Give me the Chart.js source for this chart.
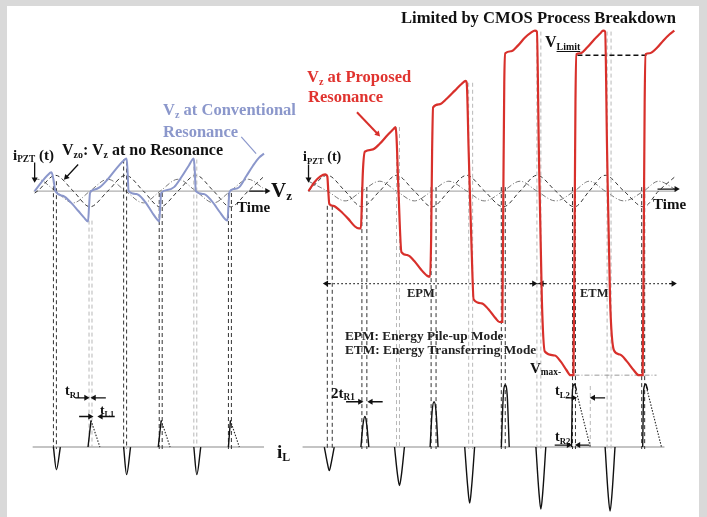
<!DOCTYPE html>
<html lang="en">
<head>
<meta charset="utf-8">
<title>Proposed vs conventional resonance</title>
<script src="https://cdn.jsdelivr.net/npm/chart.js@4.4.1/dist/chart.umd.min.js"></script>
<style>
  body { margin: 0; background: #fff; }
  #wrap { position: relative; width: 707px; height: 517px; background: #d9d9d9; overflow: hidden; }
  #inner { position: absolute; left: 7px; top: 6px; right: 8px; bottom: 0; background: #fff; }
  #chart { position: absolute; left: 0; top: 0; }
  .lbl { position: absolute; transform: translateY(-50%); line-height: 1; white-space: nowrap;
         font-family: "Liberation Serif", "Times New Roman", serif; font-weight: bold; color: #111; }
  .lbl sub { font-size: 0.62em; vertical-align: -0.3em; line-height: 0; }
</style>
</head>
<body>
<div id="wrap">
  <div id="inner"></div>
  <canvas id="chart" width="707" height="517"></canvas>
</div>
<script>
// picture units: x = time (left to right), y = level (top down)
const vzBase = [[[30,190],[262,190]], [[308,190],[680,190]]];
const iLBase = [[[29,450],[263,450]], [[302,450],[668,450]]];

// conventional resonance (left)
const convVzo = [[31,192],[34,190],[52,174],[70,190],[87,206],[105,190],[123,174],[141,190],[158,206],[176,190],[194,174],[212,190],[229,206],[247,190],[262,176]];
const convIpzt = [[31,179],[34,178],[52,190],[70,202],[87,190],[105,178],[123,190],[141,202],[158,190],[176,178],[194,190],[212,202],[229,190],[247,178],[262,187]];
const convVz = [[31,190],[38,181],[44,174],[48,171],[50,178],[52,190],[60,195],[68,202],[75,210],[81,217],[85,221],[86,206],[87,192],[90,189],[97,186],[105,178],[113,168],[120,160],[124,157],[125,170],[126,190],[134,193],[142,200],[150,212],[155,219],[157,221],[158,206],[159,192],[165,189],[172,186],[180,175],[187,164],[192,157],[193,170],[194,190],[202,193],[210,200],[218,211],[224,219],[226,220],[227,206],[228,191],[232,188],[238,186],[245,175],[252,164],[258,156],[263,152]];

// proposed resonance (right)
const propVzo = [[308,190],[327,174],[345,190],[362,206],[380,190],[397,174],[415,190],[433,206],[450,190],[468,174],[486,190],[505,206],[522,190],[539,174],[558,190],[577,206],[592,190],[608,174],[627,190],[647,206],[662,190],[678,176]];
const propIpzt = [[308,180],[327,190],[345,200],[362,190],[380,180],[397,190],[415,200],[433,190],[450,180],[468,190],[486,200],[505,190],[522,180],[539,190],[558,200],[577,190],[592,180],[608,190],[627,200],[647,190],[662,180],[680,189]];
const propVz = [[308,190],[314,181],[320,175],[325,173],[327,175],[328,190],[329,203],[333,205],[340,210],[348,218],[355,226],[359,228],[361,228],[362,200],[363,170],[365,150],[372,148],[380,142],[388,133],[394,127],[396,125],[397,135],[399,190],[402,252],[408,255],[415,261],[422,270],[428,276],[431,277],[432,240],[433,150],[434,105],[440,102],[448,96],[456,88],[463,81],[467,78],[468,80],[470,150],[473,250],[475,300],[483,304],[490,310],[497,319],[501,323],[504,323],[505,200],[506,80],[507,50],[513,48],[520,42],[527,34],[533,29],[537,27],[539,28],[541,150],[544,300],[547,353],[557,357],[563,363],[569,372],[573,377],[576,377],[577,250],[578,100],[579,51],[583,50],[590,44],[597,36],[603,30],[606,27],[608,28],[610,150],[613,300],[617,352],[623,356],[630,363],[637,372],[642,377],[646,377],[647,250],[648,100],[649,51],[653,50],[660,45],[667,37],[673,31],[678,27]];

// vertical guides: [x, top, bottom]
const guidesDark = [[50,178,452],[53,180,452],[121,158,452],[124,160,452],[157,192,452],[160,192,452],[227,192,452],[230,192,452],
  [327,205,452],[332,205,452],[362,186,452],[367,186,452],[432,186,452],[437,186,452],[503,186,452],[507,186,452],[575,186,452],[578,186,452],[645,186,452],[648,186,452]];
const guidesLight = [[86,220,450],[89,220,450],[192,158,450],[195,158,450],
  [397,125,452],[400,125,452],[470,80,452],[474,80,452],[539,28,452],[543,28,452],[610,28,452],[614,28,452],[593,388,450]];

// inductor current pulses
const pulsesSolid = [
  [[50,450],[53,473],[57,450]], [[121,450],[124,478],[128,450]], [[192,450],[195,478],[199,450]],
  [[85,450],[88,423]], [[156,450],[159,423]], [[227,450],[229,423]],
  [[324,450],[327,466],[329,474],[331,466],[334,450]], [[395,450],[398,478],[400,489],[402,478],[405,450]],
  [[466,450],[469,490],[471,507],[473,490],[476,450]], [[538,450],[541,495],[543,513],[545,495],[548,450]],
  [[608,450],[611,497],[613,515],[615,497],[618,450]],
  [[361,450],[363,428],[365,419],[367,428],[369,450]], [[431,450],[433,414],[435,404],[437,414],[439,450]],
  [[503,450],[505,398],[507,387],[509,398],[511,450]],
  [[574,450],[575,392],[577,386],[579,392]], [[646,450],[647,392],[649,386],[651,392]]
];
const pulsesDotted = [[[88,423],[97,450]], [[159,423],[168,450]], [[229,423],[238,450]], [[577,386],[593,450]], [[649,386],[665,450]]];

// levels and mode line
const vLimit = [[580,52],[650,52]];
const vMaxMinus = [[577,377],[660,377]];
const modeLine = [[325,284],[678,284]];

// arrows [x1,y1,x2,y2], head at the second point
const arrowsBlack = [[31,161,31,178],[308,163,308,178],[75,163,63,176],[248,190,266,190],[661,188,680,188],
  [72,400,83,400],[103,400,91,400],[76,419,87,419],[112,419,98,419],
  [346,404,360,404],[383,404,371,404],[568,400,576,400],[608,400,596,400],[557,448,571,448],[592,448,581,448],
  [330,284,326,284],[532,284,536,284],[548,284,544,284],[673,284,677,284]];
const arrowRed = [357,110,378,132];
const lineBlue = [[240,135],[255,152]];

const labels = [
  ['Limited by CMOS Process Breakdown', 401, 18, 16.6, '#111'],
  ['V<sub>z</sub> at Proposed', 307, 77, 16.5, '#e0332f'],
  ['Resonance', 308, 97, 16.5, '#e0332f'],
  ['V<sub>z</sub> at Conventional', 163, 110, 16.5, '#8b97cb'],
  ['Resonance', 163, 132, 16.5, '#8b97cb'],
  ['i<sub>PZT</sub> (t)', 13, 155, 15, '#111'],
  ['V<sub>zo</sub>: V<sub>z</sub> at no Resonance', 62, 150, 16, '#111'],
  ['i<sub>PZT</sub> (t)', 303, 157, 14, '#111'],
  ['V<sub>z</sub>', 271, 190, 21, '#111'],
  ['Time', 237, 207, 15, '#111'],
  ['Time', 653, 204, 15, '#111'],
  ['t<sub>R1</sub>', 65, 391, 14, '#111'],
  ['t<sub>L1</sub>', 100, 410, 13.5, '#111'],
  ['2t<sub>R1</sub>', 331, 393, 15, '#111'],
  ['t<sub>L2</sub>', 555, 391, 14, '#111'],
  ['t<sub>R2</sub>', 555, 437, 14, '#111'],
  ['EPM', 407, 293, 12.5, '#222'],
  ['ETM', 580, 293, 12.5, '#222'],
  ['EPM: Energy Pile-up Mode', 345, 336, 13.3, '#222'],
  ['ETM: Energy Transferring Mode', 345, 350, 13.3, '#222'],
  ['V<sub><u>Limit</u></sub>', 545, 42, 16, '#111'],
  ['V<sub>max-</sub>', 530, 368, 15, '#111'],
  ['i<sub>L</sub>', 277, 451, 19, '#111']
];

const xy = pts => pts.map(p => ({x: p[0], y: p[1]}));
function segs(list) {
  const out = [];
  list.forEach(s => {
    s.forEach(p => out.push({x: p[0], y: p[1]}));
    out.push({x: s[s.length - 1][0], y: null});
  });
  return out;
}
const vlines = g => segs(g.map(v => [[v[0], v[1]], [v[0], v[2]]]));

function line(data, color, width, dash, smooth) {
  return {
    data: data, showLine: true, borderColor: color, borderWidth: width,
    borderDash: dash || [], pointRadius: 0, spanGaps: false,
    cubicInterpolationMode: smooth ? 'monotone' : 'default', tension: 0
  };
}
function heads(arrows, color, r) {
  return {
    data: arrows.map(a => ({x: a[2], y: a[3]})),
    showLine: false, pointStyle: 'triangle', pointRadius: r,
    pointRotation: arrows.map(a => Math.atan2(a[2] - a[0], -(a[3] - a[1])) * 180 / Math.PI),
    backgroundColor: color, borderColor: color, borderWidth: 0
  };
}

const datasets = [
  line(xy(propVz), '#d8302b', 2.2, null, true),
  line(xy(convVz), '#8b97cb', 2, null, true),
  line(segs(arrowsBlack.map(a => [[a[0], a[1]], [a[2], a[3]]])), '#111', 1.3),
  heads(arrowsBlack, '#111', 3.5),
  line(segs([[[arrowRed[0], arrowRed[1]], [arrowRed[2], arrowRed[3]]]]), '#d8302b', 2),
  heads([arrowRed], '#d8302b', 3.5),
  line(xy(lineBlue), '#8b97cb', 1.2),
  line(segs(pulsesSolid), '#111', 1.4, null, true),
  line(segs(pulsesDotted), '#222', 1.1, [1.5, 1.5]),
  line(xy(vLimit), '#111', 1.4, [5, 3]),
  line(xy(vMaxMinus), '#999', 1, [5, 2, 1, 2]),
  line(xy(modeLine), '#222', 1.1, [1.5, 2.5]),
  line(vlines(guidesDark), '#333', 1, [4, 3]),
  line(vlines(guidesLight), '#b8b8b8', 1, [4, 3]),
  line(xy(convVzo), '#333', 1, [4, 3], true),
  line(xy(convIpzt), '#777', 1, [5, 2, 1, 2], true),
  line(xy(propVzo), '#333', 1, [4, 3], true),
  line(xy(propIpzt), '#777', 1, [5, 2, 1, 2], true),
  line(segs(vzBase), '#b0b0b0', 1.3),
  line(segs(iLBase), '#c4c4c4', 2)
];

new Chart(document.getElementById('chart').getContext('2d'), {
  type: 'scatter',
  data: { datasets: datasets },
  options: {
    responsive: false, animation: false, devicePixelRatio: 1,
    layout: { padding: 0 },
    plugins: { legend: { display: false }, tooltip: { enabled: false } },
    scales: {
      x: { type: 'linear', min: 0, max: 707, display: false },
      y: { type: 'linear', min: 0, max: 517, reverse: true, display: false }
    }
  }
});

const wrap = document.getElementById('wrap');
labels.forEach(l => {
  const d = document.createElement('div');
  d.className = 'lbl';
  d.innerHTML = l[0];
  d.style.left = l[1] + 'px';
  d.style.top = l[2] + 'px';
  d.style.fontSize = l[3] + 'px';
  d.style.color = l[4];
  wrap.appendChild(d);
});
</script>
</body>
</html>
